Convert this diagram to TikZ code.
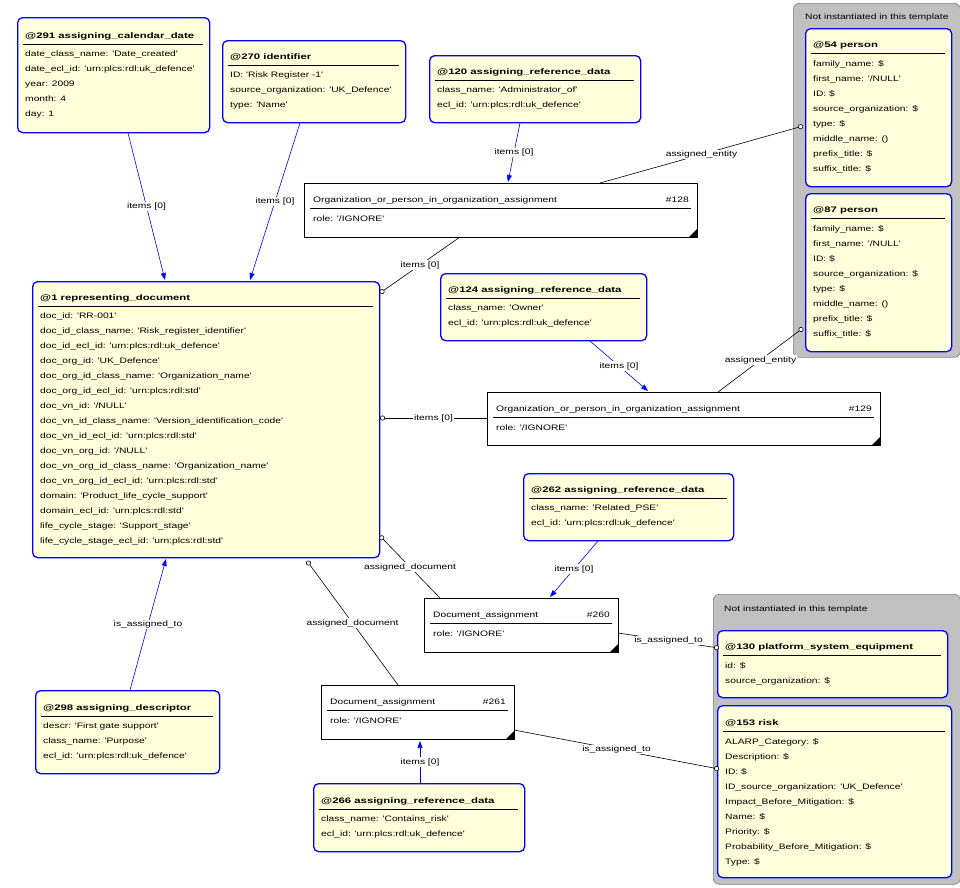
\documentclass[tikz,border=0pt]{standalone}
\usepackage{fontspec}
\setmainfont{Liberation Sans}
\newfontfamily\wide{Liberation Sans}[FakeStretch=1.3]
\newfontfamily\wideb{Liberation Sans Bold}[FakeStretch=1.42]
\usetikzlibrary{arrows.meta}
\definecolor{ey}{HTML}{FFFFDC}
\definecolor{gr}{HTML}{C0C0C0}
\tikzset{
 ybox/.style={draw=blue,fill=ey,line width=1.3pt,rounded corners=5pt,anchor=north west,inner sep=0},
 wbox/.style={draw=black,fill=white,line width=0.6pt,anchor=north west,inner sep=0},
 gbox/.style={draw=gray,fill=gr,line width=0.6pt,rounded corners=6pt,anchor=north west,inner sep=0},
 ttl/.style={font=\wideb\fontsize{8}{9}\selectfont,anchor=west,inner sep=0},
 bdy/.style={font=\wide\fontsize{7.9}{15}\selectfont,anchor=north west,inner sep=0,align=left},
 wt/.style={font=\wide\fontsize{7.9}{9}\selectfont,anchor=west,inner sep=0},
 lbl/.style={font=\wide\fontsize{7.9}{9}\selectfont,fill=white,inner sep=1pt},
 items/.style={draw=blue,line width=0.6pt,-{Triangle[length=7pt,width=5pt,fill=blue]}},
 kcon/.style={draw=black,line width=0.6pt},
 circ/.style={-{Circle[open,length=5pt,fill=white]}},
}
% name,x,y,w,h,titleY,title,body
\newcommand\ent[8]{%
 \node[ybox,minimum width=#4pt,minimum height=#5pt] (#1) at (#2,#3) {};
 \node[ttl] (#1t) at (#2+8,#6+1) {#7};
 \draw[line width=0.6pt] (#2+6,#6+9) -- (#2+#4-6,#6+9);
 \node[bdy] (#1b) at (#2+8,#6+16) {#8};
}
% name,x,y,w,h,title,number,titleY
\newcommand\wen[8]{%
 \node[wbox,minimum width=#4pt,minimum height=#5pt] (#1) at (#2,#3) {};
 \node[wt] (#1t) at (#2+9,#8) {#6};
 \node[wt,anchor=east] (#1n) at (#2+#4-8,#8) {#7};
 \draw[line width=0.6pt] (#2+6,#8+8) -- (#2+#4-6,#8+8);
 \node[wt] (#1r) at (#2+9,#8+19) {role: '/IGNORE'};
 \fill (#2+#4,#3+#5) -- ++(-8,0) -- ++(8,-8) -- cycle;
}
\begin{document}
\begin{tikzpicture}[x=1pt,y=-1pt]
\useasboundingbox (0,0) rectangle (960,887);
\fill[white] (0,0) rectangle (960,887);
% groups
\node[gbox,minimum width=167pt,minimum height=354pt] (g1) at (793,3) {};
\node[wt] (g1t) at (805,17) {Not instantiated in this template};
\node[gbox,minimum width=247pt,minimum height=290pt] (g2) at (713,594) {};
\node[wt] (g2t) at (724,609) {Not instantiated in this template};

\ent{e291}{17}{17}{192}{115}{35}{@291 assigning\_calendar\_date}{date\_class\_name: 'Date\_created'\\date\_ecl\_id: 'urn:plcs:rdl:uk\_defence'\\year: 2009\\month: 4\\day: 1}
\ent{e270}{222}{40}{183}{82}{56}{@270 identifier}{ID: 'Risk Register -1'\\source\_organization: 'UK\_Defence'\\type: 'Name'}
\ent{e120}{429}{55}{211}{67}{71}{@120 assigning\_reference\_data}{class\_name: 'Administrator\_of'\\ecl\_id: 'urn:plcs:rdl:uk\_defence'}
\ent{e1}{32}{281}{347}{276}{297}{@1 representing\_document}{doc\_id: 'RR-001'\\doc\_id\_class\_name: 'Risk\_register\_identifier'\\doc\_id\_ecl\_id: 'urn:plcs:rdl:uk\_defence'\\doc\_org\_id: 'UK\_Defence'\\doc\_org\_id\_class\_name: 'Organization\_name'\\doc\_org\_id\_ecl\_id: 'urn:plcs:rdl:std'\\doc\_vn\_id: '/NULL'\\doc\_vn\_id\_class\_name: 'Version\_identification\_code'\\doc\_vn\_id\_ecl\_id: 'urn:plcs:rdl:std'\\doc\_vn\_org\_id: '/NULL'\\doc\_vn\_org\_id\_class\_name: 'Organization\_name'\\doc\_vn\_org\_id\_ecl\_id: 'urn:plcs:rdl:std'\\domain: 'Product\_life\_cycle\_support'\\domain\_ecl\_id: 'urn:plcs:rdl:std'\\life\_cycle\_stage: 'Support\_stage'\\life\_cycle\_stage\_ecl\_id: 'urn:plcs:rdl:std'}
\ent{e124}{440}{273}{206}{67}{289}{@124 assigning\_reference\_data}{class\_name: 'Owner'\\ecl\_id: 'urn:plcs:rdl:uk\_defence'}
\ent{e262}{523}{473}{210}{67}{489}{@262 assigning\_reference\_data}{class\_name: 'Related\_PSE'\\ecl\_id: 'urn:plcs:rdl:uk\_defence'}
\ent{e298}{35}{690}{184}{83}{707}{@298 assigning\_descriptor}{descr: 'First gate support'\\class\_name: 'Purpose'\\ecl\_id: 'urn:plcs:rdl:uk\_defence'}
\ent{e266}{313}{783}{211}{68}{800}{@266 assigning\_reference\_data}{class\_name: 'Contains\_risk'\\ecl\_id: 'urn:plcs:rdl:uk\_defence'}
\ent{e54}{805}{28}{146}{158}{44}{@54 person}{family\_name: \$\\first\_name: '/NULL'\\ID: \$\\source\_organization: \$\\type: \$\\middle\_name: ()\\prefix\_title: \$\\suffix\_title: \$}
\ent{e87}{805}{193}{146}{158}{209}{@87 person}{family\_name: \$\\first\_name: '/NULL'\\ID: \$\\source\_organization: \$\\type: \$\\middle\_name: ()\\prefix\_title: \$\\suffix\_title: \$}
\ent{e130}{717}{630}{230}{67}{646}{@130 platform\_system\_equipment}{id: \$\\source\_organization: \$}
\ent{e153}{717}{705}{234}{172}{722}{@153 risk}{ALARP\_Category: \$\\Description: \$\\ID: \$\\ID\_source\_organization: 'UK\_Defence'\\Impact\_Before\_Mitigation: \$\\Name: \$\\Priority: \$\\Probability\_Before\_Mitigation: \$\\Type: \$}

\wen{o128}{304}{183}{393}{54}{Organization\_or\_person\_in\_organization\_assignment}{\#128}{200}
\wen{o129}{487}{392}{393}{53}{Organization\_or\_person\_in\_organization\_assignment}{\#129}{409}
\wen{d260}{424}{598}{194}{54}{Document\_assignment}{\#260}{615}
\wen{d261}{321}{685}{193}{54}{Document\_assignment}{\#261}{702}

% connectors
\draw[items] (128,133) -- node[lbl]{items [0]} (165,280);
\draw[items] (300,123) -- node[lbl]{items [0]} (250,280);
\draw[items] (520,123) -- node[lbl]{items [0]} (508,182);
\draw[items] (590,341) -- node[lbl]{items [0]} (648,391);
\draw[items] (598,541) -- node[lbl]{items [0]} (550,597);
\draw[items] (420,783) -- node[lbl]{items [0]} (420,741);
\draw[items] (130,690) -- node[lbl]{is\_assigned\_to} (166,559);
\draw[kcon,circ] (460,237) -- node[lbl]{items [0]} (380,293);
\draw[kcon,circ] (487,418) -- node[lbl]{items [0]} (380,418);
\draw[kcon,circ] (600,183) -- node[lbl]{assigned\_entity} (803,126);
\draw[kcon,circ] (718,392) -- node[lbl]{assigned\_entity} (803,328);
\draw[kcon,circ] (440,598) -- node[lbl]{assigned\_document} (380,536);
\draw[kcon,circ] (398,685) -- node[lbl]{assigned\_document} (307,561);
\draw[kcon,circ] (618,633) -- node[lbl]{is\_assigned\_to} (719,648);
\draw[kcon,circ] (514,730) -- node[lbl]{is\_assigned\_to} (719,769);
\end{tikzpicture}
\end{document}
